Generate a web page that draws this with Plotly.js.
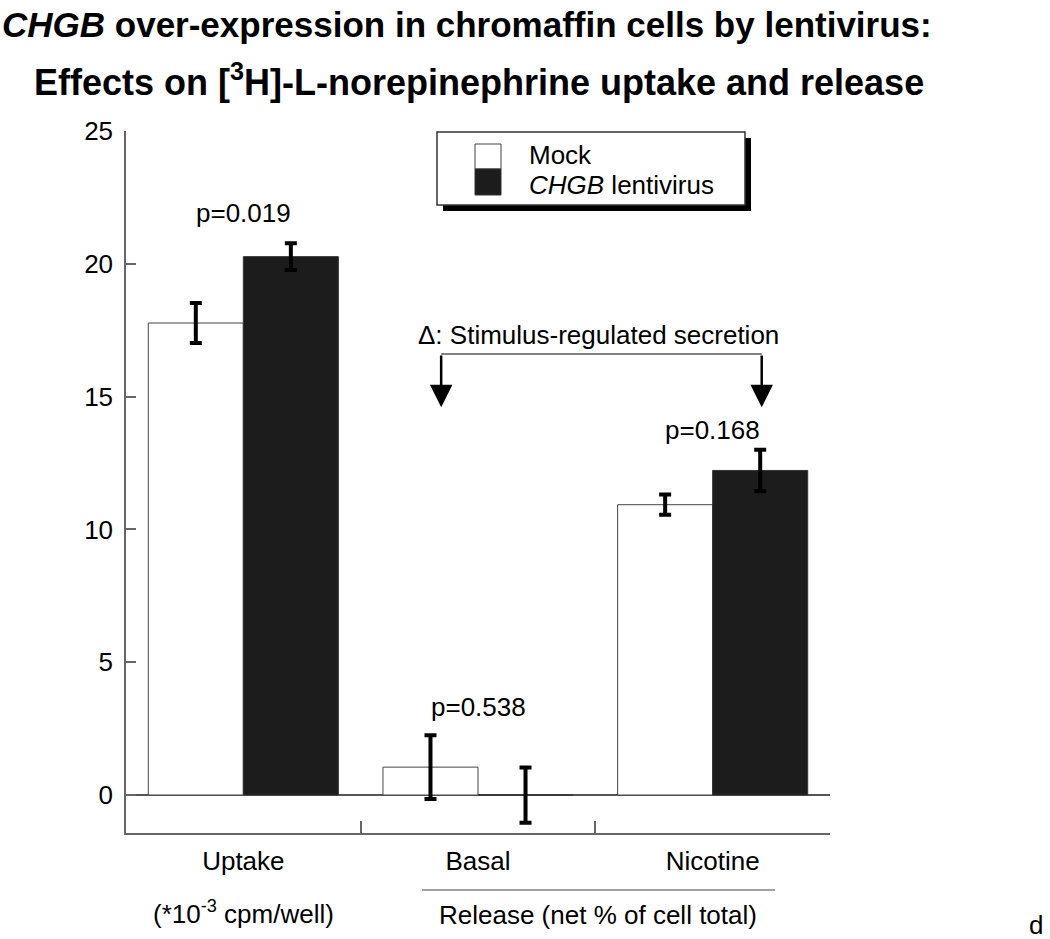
<!DOCTYPE html>
<html>
<head>
<meta charset="utf-8">
<script src="https://cdn.plot.ly/plotly-3.0.1.min.js"></script>
<style>
  body { margin: 0; background: #fff; }
  #plotArea { width: 1050px; height: 939px; }
</style>
</head>
<body>
<div id="plotArea"></div>
<script>
// data
var categories = ["Uptake", "Basal", "Nicotine"];
var mockValues = [17.77, 1.05, 10.93];
var mockErrors = [0.75, 1.2, 0.38];
var chgbValues = [20.27, 0.0, 12.22];
var chgbErrors = [0.5, 1.04, 0.78];
var pLabels = ["p=0.019", "p=0.538", "p=0.168"];
var pHeights = [21.9, 3.3, 13.75];
var yTicks = [0, 5, 10, 15, 20, 25];

var FONT = "Liberation Sans, Arial, Helvetica, sans-serif";
var FS = 26;

// plot area in pixels: x 126..830, y 131..833
function px(x) { return (x - 126) / 704; }
function py(y) { return (833 - y) / 702; }

function label(x, y, text, size, anchor) {
    return {
        x: px(x), y: py(y), xref: "paper", yref: "paper",
        xanchor: anchor || "center", yanchor: "middle",
        text: text, showarrow: false,
        font: {size: size || FS, color: "#000", family: FONT}
    };
}

var trace1 = {
    x: categories,
    y: mockValues,
    name: "Mock",
    type: "bar",
    marker: {color: "#ffffff", line: {color: "#444", width: 1}},
    error_y: {type: "data", array: mockErrors, color: "#000", thickness: 4, width: 6}
};

var trace2 = {
    x: categories,
    y: chgbValues,
    name: "CHGB lentivirus",
    type: "bar",
    marker: {color: "#1c1c1c", line: {color: "#333", width: 1}},
    error_y: {type: "data", array: chgbErrors, color: "#000", thickness: 4, width: 6}
};

var annotations = [];

// p-values above each group
for (var i = 0; i < categories.length; i++) {
    annotations.push({
        x: categories[i], y: pHeights[i], xref: "x", yref: "y",
        xanchor: "center", yanchor: "middle",
        text: pLabels[i], showarrow: false,
        font: {size: FS, color: "#000", family: FONT}
    });
}

// stimulus-regulated bracket arrows
annotations.push({
    x: 0.843, y: 14.6, ax: 0.843, ay: 16.6, xref: "x", yref: "y", axref: "x", ayref: "y",
    text: "", showarrow: true, arrowhead: 2, arrowsize: 1.8, arrowwidth: 2.5, arrowcolor: "#000"
});
annotations.push({
    x: 2.209, y: 14.6, ax: 2.209, ay: 16.6, xref: "x", yref: "y", axref: "x", ayref: "y",
    text: "", showarrow: true, arrowhead: 2, arrowsize: 1.8, arrowwidth: 2.5, arrowcolor: "#000"
});
annotations.push(label(598, 335, "\u0394: Stimulus-regulated secretion"));

// titles
annotations.push(label(0, 25, "<b><i>CHGB</i> over-expression in chromaffin cells by lentivirus:</b>", 35, "left"));
annotations.push(label(32, 80, "<b>Effects on [<sup>3</sup>H]-L-norepinephrine uptake and release</b>", 36, "left"));

// legend text
annotations.push(label(527, 155, "Mock", FS, "left"));
annotations.push(label(527, 185, "<i>CHGB</i> lentivirus", FS, "left"));

// labels under the axis
annotations.push(label(243, 912, "(*10<sup>-3</sup> cpm/well)"));
annotations.push(label(598, 915, "Release (net % of cell total)"));
annotations.push(label(1036, 925, "d"));

var shapes = [
    // bracket top line
    {type: "line", xref: "x", yref: "y", x0: 0.843, x1: 2.209, y0: 16.6, y1: 16.6,
     line: {color: "#555", width: 1.5}},
    // legend shadow
    {type: "rect", xref: "paper", yref: "paper", x0: px(443), x1: px(751), y0: py(211), y1: py(138),
     fillcolor: "#000", line: {width: 0}},
    // legend box
    {type: "rect", xref: "paper", yref: "paper", x0: px(437), x1: px(745), y0: py(205), y1: py(132),
     fillcolor: "#fff", line: {color: "#333", width: 1.5}},
    // legend swatches
    {type: "rect", xref: "paper", yref: "paper", x0: px(475), x1: px(501), y0: py(169), y1: py(144),
     fillcolor: "#fff", line: {color: "#444", width: 1}},
    {type: "rect", xref: "paper", yref: "paper", x0: px(475), x1: px(501), y0: py(195), y1: py(169),
     fillcolor: "#1c1c1c", line: {color: "#333", width: 1}},
    // line above "Release"
    {type: "line", xref: "paper", yref: "paper", x0: px(422), x1: px(775), y0: py(890), y1: py(890),
     line: {color: "#444", width: 1}}
];

var layout = {
    width: 1050,
    height: 939,
    margin: {l: 126, r: 220, t: 131, b: 106},
    paper_bgcolor: "#fff",
    plot_bgcolor: "#fff",
    barmode: "group",
    bargap: 0.19,
    bargroupgap: 0,
    showlegend: false,
    font: {family: FONT, size: FS, color: "#000"},
    xaxis: {
        type: "category",
        range: [-0.5, 2.5],
        showline: true, linecolor: "#666", linewidth: 1.5,
        ticks: "inside", tickson: "boundaries", ticklen: 12, tickcolor: "#666", tickwidth: 1.5,
        showgrid: false, zeroline: false,
        tickfont: {size: FS, color: "#000", family: FONT},
        ticklabelstandoff: 4
    },
    yaxis: {
        range: [-1.43, 25],
        tickvals: yTicks,
        showline: true, linecolor: "#666", linewidth: 1.5,
        ticks: "inside", ticklen: 10, tickcolor: "#666", tickwidth: 1.5,
        showgrid: false,
        zeroline: true, zerolinecolor: "#555", zerolinewidth: 1.5,
        tickfont: {size: FS, color: "#000", family: FONT},
        ticklabelstandoff: 6
    },
    annotations: annotations,
    shapes: shapes
};

Plotly.newPlot("plotArea", [trace1, trace2], layout, {displayModeBar: false});
</script>
</body>
</html>
